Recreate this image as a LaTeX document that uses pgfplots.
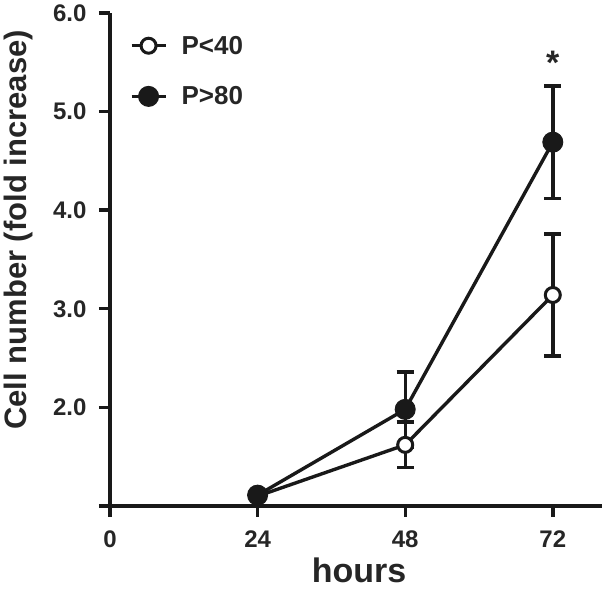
\documentclass[border=0pt]{standalone}
\usepackage{fontspec}
\setmainfont{Liberation Sans}
\usepackage{pgfplots}
\pgfplotsset{compat=1.18}
\begin{document}
\begin{tikzpicture}
\begin{axis}[
  name=ax,
  scale only axis, width=492pt, height=493pt,
  xmin=0, xmax=80, ymin=1, ymax=6,
  axis lines=left,
  axis line style={-, line width=3.6pt, black!90},
  tick style={line width=3.4pt, black!90},
  tick align=outside,
  major tick length=11pt,
  xtick={0,24,48,72},
  ytick={1,2,3,4,5,6},
  yticklabels={,2.0,3.0,4.0,5.0,6.0},
  /pgf/number format/assume math mode=true,
  tick label style={font=\bfseries\fontsize{24}{26}\selectfont, text=black!85},
  y tick label style={xshift=-9pt},
  x tick label style={yshift=-10pt},
  xlabel={hours},
  ylabel={Cell number (fold increase)},
  xlabel style={font=\bfseries\fontsize{34}{36}\selectfont, text=black!85,
    at={(rel axis cs:0.5,0)}, anchor=base, yshift=-76pt, xshift=3pt},
  ylabel style={font=\bfseries\fontsize{31}{33}\selectfont, text=black!85,
    at={(rel axis cs:0,0.56)}, anchor=center, yshift=92pt},
  clip=false,
  legend style={at={(0.04,0.958)}, anchor=north west, draw=none, fill=none,
    font=\bfseries\fontsize{26}{28}\selectfont, text=black!85, row sep=27pt, inner sep=0pt},
  legend cell align=left,
  legend image code/.code={\draw[mark repeat=2,mark phase=2,#1] plot coordinates {(0pt,0pt) (17pt,0pt) (34pt,0pt)}; \path[draw=none,fill=none] (0pt,0pt) -- (48pt,0pt);},
  every axis plot/.append style={line width=3.4pt, black!90},
  error bars/error bar style={line width=3.4pt, black!90},
  error bars/error mark options={rotate=90, mark size=8.5pt, line width=3.4pt, black!90},
]
\addplot[black!90, mark=*, mark size=7.5pt, mark options={fill=white, draw=black!90, line width=3pt},
  error bars/.cd, y dir=both, y explicit]
  coordinates {(24,1.10) +- (0,0.03) (48,1.62) +- (0,0.23) (72,3.14) +- (0,0.62)};
\addlegendentry{P<40}
\addplot[black!90, mark=*, mark size=10pt, mark options={fill=black!90, draw=black!90, line width=1pt},
  error bars/.cd, y dir=both, y explicit]
  coordinates {(24,1.11) +- (0,0.03) (48,1.98) +- (0,0.38) (72,4.69) +- (0,0.57)};
\addlegendentry{P>80}
\node[anchor=base, font=\bfseries\fontsize{34}{36}\selectfont, text=black!85] at (axis cs:72,5.38) {*};
\end{axis}
\pgfresetboundingbox
\path ([xshift=-110pt,yshift=-84pt]ax.south west) rectangle ([xshift=4pt,yshift=13pt]ax.north east);
\end{tikzpicture}
\end{document}
